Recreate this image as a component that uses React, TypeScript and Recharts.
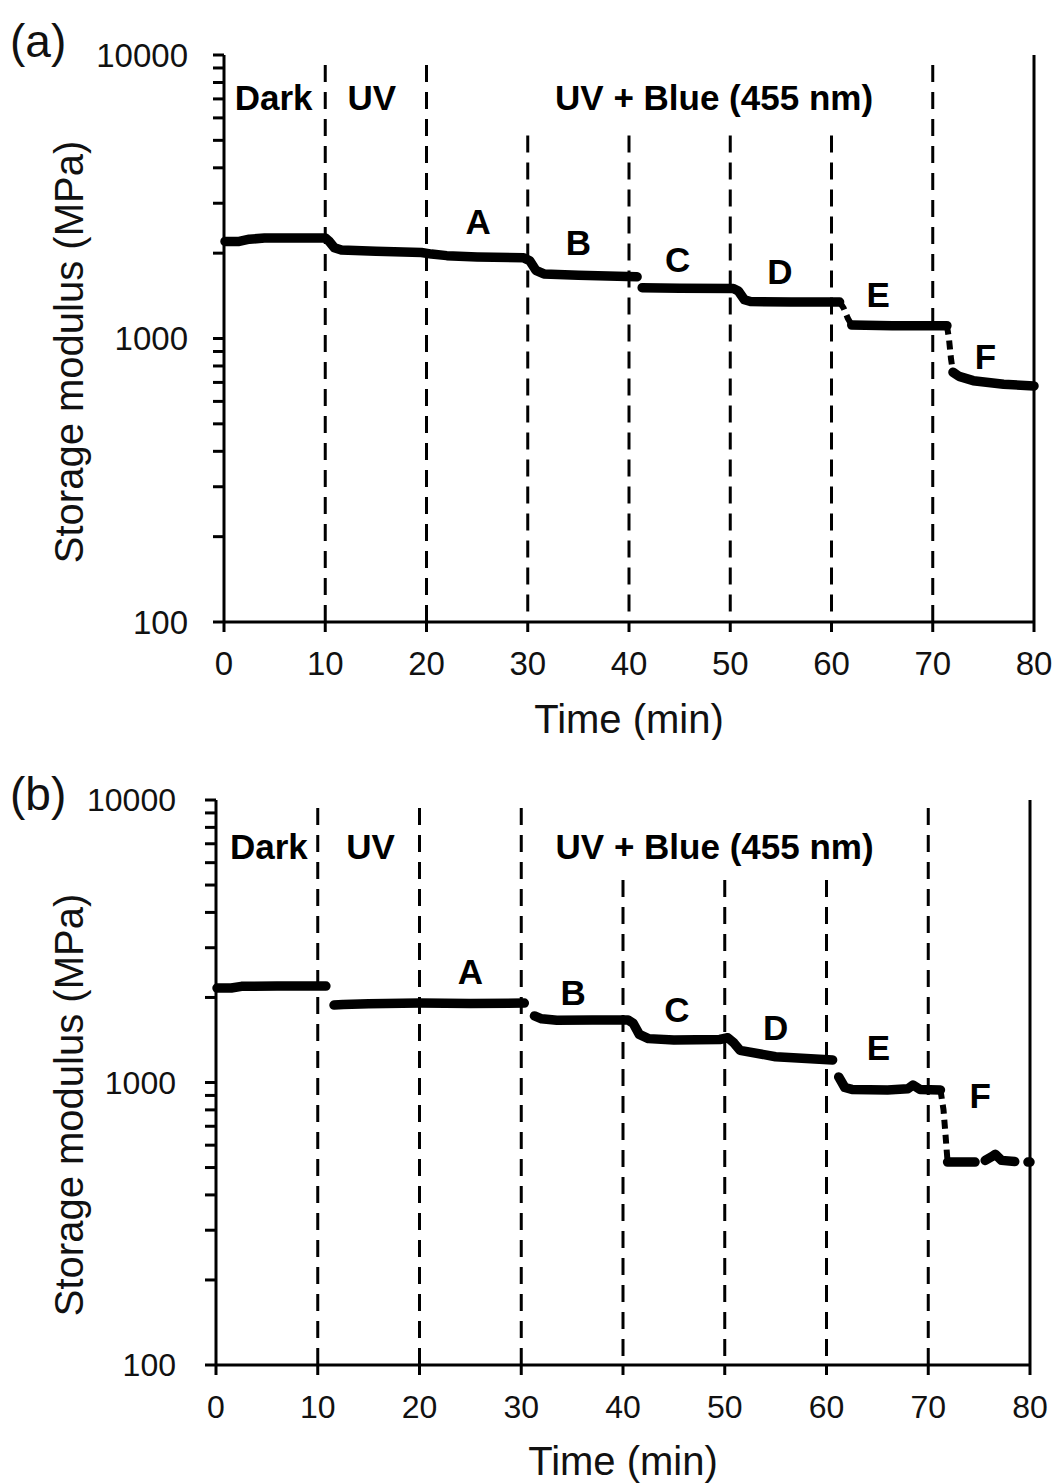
import React from 'react';
import { LineChart, Line, XAxis, YAxis, ReferenceLine, ReferenceDot } from 'recharts';

const xTicks = [0, 10, 20, 30, 40, 50, 60, 70, 80];
const yTicks = [100, 200, 300, 400, 500, 600, 700, 800, 900, 1000, 2000, 3000, 4000, 5000, 6000, 7000, 8000, 9000, 10000];
const yMajor = [100, 1000, 10000];
const fullBounds = [10, 20, 70];

const phaseNames = ['Dark', 'UV', 'UV + Blue (455 nm)'];
const stepNames = ['A', 'B', 'C', 'D', 'E', 'F'];

// panel (a)
const timeA = [0.1, 1.5, 2.5, 4, 7, 10, 10.4, 10.9, 11.6, 15, 19.5, 20.5, 22, 25, 29.6, 30.2, 30.8, 31.6, 35, 40.8, 41.0, 41.3, 45, 50.3, 50.8, 51.4, 52, 56, 60.8, 61.4, 62, 66, 71.4, 71.7, 72, 72.6, 74, 77, 80];
const modulusA = [2200, 2200, 2240, 2260, 2262, 2262, 2200, 2090, 2050, 2030, 2010, 1985, 1960, 1940, 1925, 1880, 1740, 1690, 1670, 1650, null, 1510, 1505, 1500, 1470, 1370, 1350, 1345, 1345, null, 1115, 1110, 1110, null, 760, 735, 710, 690, 680];
const dropTimeA = [60.8, 61.2, 61.6, 62, 62.1, 71.4, 71.6, 71.8, 72];
const dropModulusA = [1345, 1280, 1180, 1115, null, 1110, 1000, 850, 760];
const partialBoundsA = [30, 40, 50, 60];
const partialTopA = 5200;
const phaseTimeA = [4.9, 14.6, 48.4];
const phaseModulusA = 7050;
const stepTimeA = [25.1, 35.0, 44.8, 54.9, 64.6, 75.2];
const stepModulusA = [2577, 2173, 1893, 1717, 1423, 861];

// panel (b)
const timeB = [0.1, 1.5, 2.5, 6, 10.8, 11.2, 11.6, 12.5, 15, 20, 25, 30.3, 30.8, 31.3, 32, 33.5, 37, 40.5, 41, 41.6, 42.5, 45, 49.5, 50.3, 50.9, 51.5, 55, 60.6, 60.9, 61.2, 61.8, 62.5, 66, 68, 68.5, 69.2, 71.2, 71.5, 71.9, 73, 74.6, 75, 75.6, 76.2, 76.6, 77.2, 78.5, 79, 79.8, 80];
const modulusB = [2160, 2160, 2190, 2195, 2195, null, 1880, 1890, 1900, 1910, 1905, 1910, null, 1720, 1680, 1660, 1664, 1664, 1620, 1480, 1430, 1414, 1420, 1440, 1380, 1300, 1234, 1202, null, 1046, 960, 945, 941, 950, 980, 945, 941, null, 523, 523, 523, null, 530, 545, 557, 530, 525, null, 523, 523];
const dropTimeB = [71.2, 71.5, 71.7, 71.9];
const dropModulusB = [941, 800, 650, 523];
const partialBoundsB = [40, 50, 60];
const fullBoundsB = [10, 20, 30, 70];
const partialTopB = 5210;
const phaseTimeB = [5.2, 15.2, 49.0];
const phaseModulusB = 6820;
const stepTimeB = [25.0, 35.1, 45.3, 55.0, 65.1, 75.1];
const stepModulusB = [2461, 2074, 1806, 1571, 1324, 896];

const FONT = '"Liberation Sans", Arial, sans-serif';

const toRows = (t: number[], v: (number | null)[]) => t.map((x, i) => ({ t: x, v: v[i] }));

const YTick = (props: any) => {
  const { x, y, payload, fs } = props;
  if (!yMajor.includes(payload.value)) return null;
  return (
    <text x={x} y={y} dy="0.355em" textAnchor="end" fontSize={fs} fontFamily={FONT} fill="#111">
      {payload.value}
    </text>
  );
};

interface PanelProps {
  letter: string;
  height: number;
  top: number;
  yAxisWidth: number;
  right: number;
  xAxisHeight: number;
  tickFont: number;
  yTickMargin: number;
  rows: { t: number; v: number | null }[];
  drops: { t: number; v: number | null }[];
  fullLines: number[];
  partialLines: number[];
  partialTop: number;
  phaseTime: number[];
  phaseModulus: number;
  stepTime: number[];
  stepModulus: number[];
  letterY: number;
  yTitleY: number;
  xTitleY: number;
  xTitleX: number;
}

const Panel: React.FC<PanelProps> = (p) => {
  const axisStyle = { stroke: '#000', strokeWidth: 3 };
  return (
    <div style={{ position: 'relative', width: 1056, height: p.height }}>
      <LineChart width={1056} height={p.height} margin={{ top: p.top, right: p.right, bottom: 0, left: 0 }}>
        <XAxis
          type="number"
          dataKey="t"
          domain={[0, 80]}
          ticks={xTicks}
          interval={0}
          height={p.xAxisHeight}
          axisLine={axisStyle}
          tickLine={axisStyle}
          tickSize={10}
          tickMargin={20}
          tick={{ fill: '#111', fontSize: p.tickFont, fontFamily: FONT }}
        />
        <YAxis
          type="number"
          scale="log"
          domain={[100, 10000]}
          ticks={yTicks}
          interval={0}
          width={p.yAxisWidth}
          axisLine={axisStyle}
          tickLine={axisStyle}
          tickSize={11}
          tickMargin={p.yTickMargin}
          tick={<YTick fs={p.tickFont} />}
        />
        {p.fullLines.map((b) => (
          <ReferenceLine key={'f' + b} x={b} stroke="#000" strokeWidth={3} strokeDasharray="17 10" />
        ))}
        {p.partialLines.map((b) => (
          <ReferenceLine
            key={'p' + b}
            segment={[{ x: b, y: p.partialTop }, { x: b, y: 100 }]}
            stroke="#000"
            strokeWidth={3}
            strokeDasharray="17 10"
          />
        ))}
        <ReferenceLine x={80} stroke="#000" strokeWidth={3} />
        <Line
          data={p.rows}
          dataKey="v"
          stroke="#000"
          strokeWidth={9.5}
          strokeLinecap="round"
          strokeLinejoin="round"
          dot={false}
          connectNulls={false}
          isAnimationActive={false}
        />
        <Line
          data={p.drops}
          dataKey="v"
          stroke="#000"
          strokeWidth={6}
          strokeDasharray="9 6"
          dot={false}
          connectNulls={false}
          isAnimationActive={false}
        />
        {phaseNames.map((n, i) => (
          <ReferenceDot
            key={n}
            x={p.phaseTime[i]}
            y={p.phaseModulus}
            r={0.1}
            fill="none"
            stroke="none"
            label={{ value: n, position: 'center', fontSize: 35, fontWeight: 700, fill: '#000', fontFamily: FONT }}
          />
        ))}
        {stepNames.map((n, i) => (
          <ReferenceDot
            key={n}
            x={p.stepTime[i]}
            y={p.stepModulus[i]}
            r={0.1}
            fill="none"
            stroke="none"
            label={{ value: n, position: 'center', fontSize: 35, fontWeight: 700, fill: '#000', fontFamily: FONT }}
          />
        ))}
      </LineChart>
      <svg width={1056} height={p.height} style={{ position: 'absolute', left: 0, top: 0, pointerEvents: 'none' }}>
        <text x={10} y={p.letterY} fontSize={46} fontFamily={FONT} fill="#111">
          {p.letter}
        </text>
        <text
          transform={`translate(83,${p.yTitleY}) rotate(-90)`}
          textAnchor="middle"
          fontSize={40}
          fontFamily={FONT}
          fill="#111"
        >
          Storage modulus (MPa)
        </text>
        <text x={p.xTitleX} y={p.xTitleY} textAnchor="middle" fontSize={40} fontFamily={FONT} fill="#111">
          Time (min)
        </text>
      </svg>
    </div>
  );
};

export default function App() {
  return (
    <div style={{ width: 1056, height: 1484, background: '#fff' }}>
      <style>{'body{margin:0;}'}</style>
      <Panel
        letter="(a)"
        height={740}
        top={55}
        yAxisWidth={224}
        right={22}
        xAxisHeight={118}
        tickFont={33}
        yTickMargin={25}
        rows={toRows(timeA, modulusA)}
        drops={toRows(dropTimeA, dropModulusA)}
        fullLines={fullBounds}
        partialLines={partialBoundsA}
        partialTop={partialTopA}
        phaseTime={phaseTimeA}
        phaseModulus={phaseModulusA}
        stepTime={stepTimeA}
        stepModulus={stepModulusA}
        letterY={57}
        yTitleY={352}
        xTitleY={733}
        xTitleX={629}
      />
      <Panel
        letter="(b)"
        height={744}
        top={60}
        yAxisWidth={216}
        right={26}
        xAxisHeight={119}
        tickFont={32}
        yTickMargin={29}
        rows={toRows(timeB, modulusB)}
        drops={toRows(dropTimeB, dropModulusB)}
        fullLines={fullBoundsB}
        partialLines={partialBoundsB}
        partialTop={partialTopB}
        phaseTime={phaseTimeB}
        phaseModulus={phaseModulusB}
        stepTime={stepTimeB}
        stepModulus={stepModulusB}
        letterY={70}
        yTitleY={365}
        xTitleY={735}
        xTitleX={623}
      />
    </div>
  );
}
